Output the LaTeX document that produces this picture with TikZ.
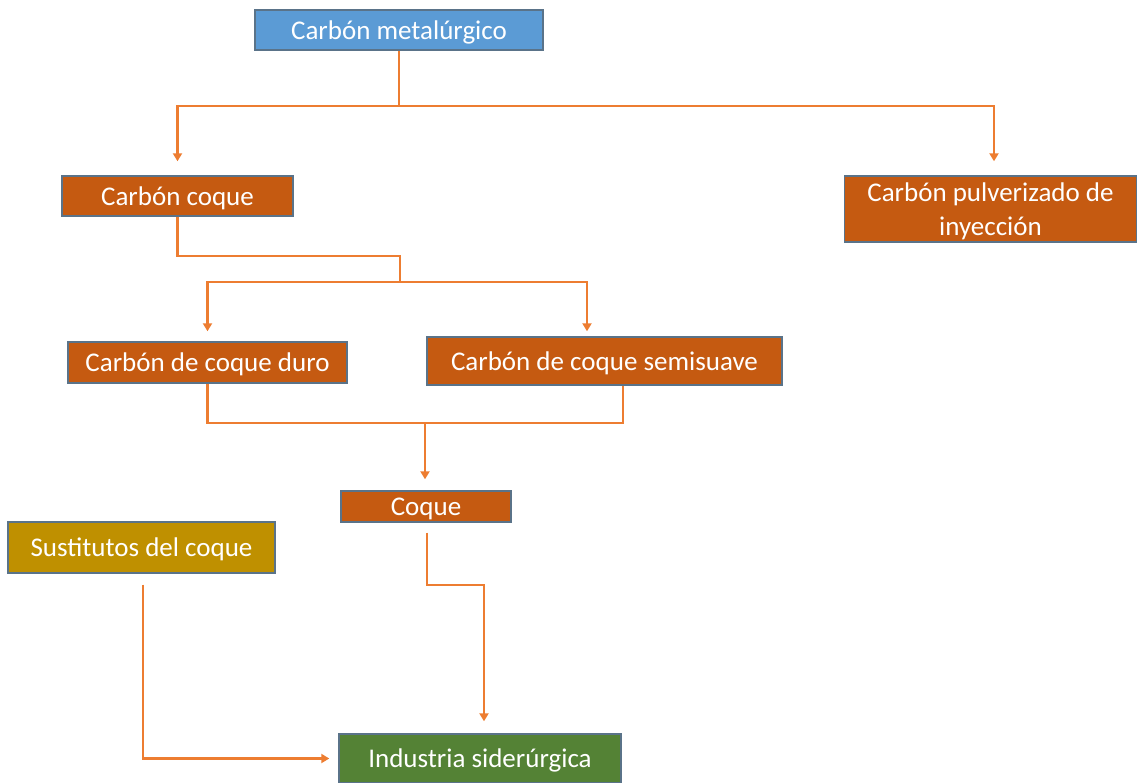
\documentclass[tikz,border=0pt]{standalone}
\usepackage{fontspec}
\setmainfont{Carlito}
\usetikzlibrary{arrows.meta}
\definecolor{boxblue}{HTML}{5B9BD5}
\definecolor{boxorange}{HTML}{C55A11}
\definecolor{boxgold}{HTML}{BF9000}
\definecolor{boxgreen}{HTML}{548235}
\definecolor{edgeline}{HTML}{5A7389}
\definecolor{conncol}{HTML}{ED7D31}
\tikzset{
  box/.style={draw=edgeline, line width=1.4pt, text=white, inner sep=0pt,
    font=\fontsize{27}{34}\selectfont, align=center, text depth=0pt},
  conn/.style={draw=conncol, line width=2.2pt},
  arr/.style={conn, -{Triangle[length=8pt,width=9pt]}},
}
\begin{document}
\begin{tikzpicture}[x=1pt,y=-1pt]
\useasboundingbox (0,0) rectangle (1137,783);
\node[box, fill=boxblue, minimum width=288, minimum height=40] (met) at (399,30) {Carbón metalúrgico};
\node[box, fill=boxorange, minimum width=231, minimum height=40] (coke) at (177.5,196) {Carbón coque};
\node[box, fill=boxorange, minimum width=292, minimum height=66] (pci) at (990.5,209) {Carbón pulverizado de\\inyección};
\node[box, fill=boxorange, minimum width=279, minimum height=41] (duro) at (207.5,362.5) {Carbón de coque duro};
\node[box, fill=boxorange, minimum width=355, minimum height=48] (semi) at (604.5,361) {Carbón de coque semisuave};
\node[box, fill=boxorange, minimum width=170, minimum height=31] (coque) at (426,506.5) {Coque};
\node[box, fill=boxgold, minimum width=267, minimum height=51] (sust) at (141.5,547.5) {Sustitutos del coque};
\node[box, fill=boxgreen, minimum width=282, minimum height=49] (ind) at (480,758.5) {Industria siderúrgica};

\coordinate (j1) at (399,106);
\coordinate (k2) at (400,256);
\coordinate (j2) at (400,282);
\coordinate (k3) at (623,423);
\coordinate (j3) at (425,423);
\coordinate (k4) at (484,585);

\draw[conn] (met.south) -- (j1);
\draw[arr, shorten >=14pt] (j1) -| (coke.north);
\draw[arr, shorten >=14pt] (j1) -| (pci.north -| 994,0);

\draw[conn] (coke.south) |- (k2) -- (j2);
\draw[arr, shorten >=10pt] (j2) -| (duro.north);
\draw[arr, shorten >=5pt] (j2) -| (semi.north -| 587,0);

\draw[conn] (duro.south) |- (k3) -- (semi.south -| 623,0);
\draw[arr, shorten >=11pt] (j3) -- (coque.north -| 425,0);

\draw[arr, shorten <=10pt, shorten >=12pt] (coque.south -| 427,0) |- (k4) -- (ind.north -| 484,0);
\draw[arr, shorten <=11pt, shorten >=9pt] (sust.south -| 143,0) |- (ind.west);
\end{tikzpicture}
\end{document}
